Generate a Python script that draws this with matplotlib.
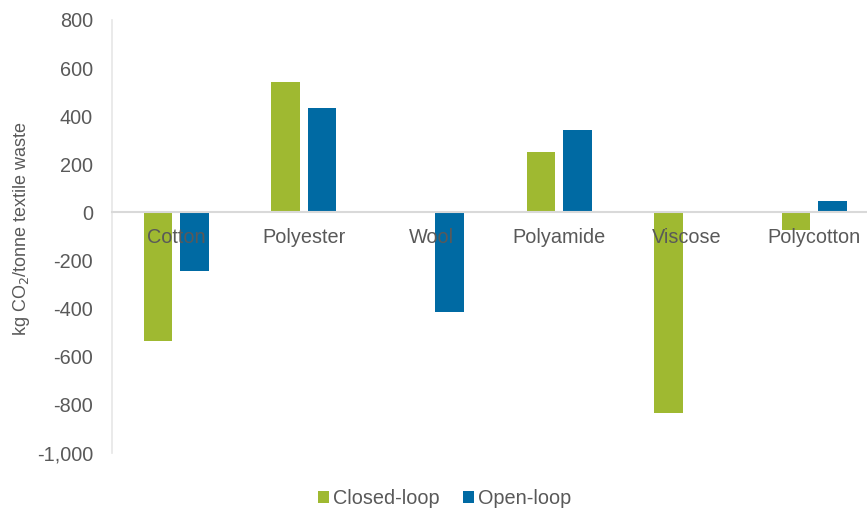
import numpy as np
import matplotlib.pyplot as plt
from matplotlib.ticker import FuncFormatter

# valeurs (kg CO2 / tonne)
categories = ["Cotton", "Polyester", "Wool", "Polyamide", "Viscose", "Polycotton"]
closed_loop = [-535, 544, 0, 250, -833, -72]
open_loop = [-242, 433, -415, 344, 0, 48]
y_ticks = [-1000, -800, -600, -400, -200, 0, 200, 400, 600, 800]

green = "#9FB931"
blue = "#006AA3"
grey = "#595959"

plt.rcParams['font.family'] = ['Liberation Sans', 'DejaVu Sans']

fig = plt.figure(figsize=(8.67, 5.08), dpi=100)
ax = fig.add_axes([112.5 / 867, 55 / 508, (878 - 112.5) / 867, 433 / 508])

x = np.arange(len(categories))
w = 0.223
ax.bar(x - 0.143, closed_loop, w, color=green, label="Closed-loop")
ax.bar(x + 0.143, open_loop, w, color=blue, label="Open-loop")

ax.set_xlim(-0.5, len(categories) - 0.5)
ax.set_ylim(-1000, 800)
ax.set_yticks(y_ticks)
ax.yaxis.set_major_formatter(FuncFormatter(lambda v, p: f"{int(v):,}"))
ax.tick_params(axis='y', length=0, pad=14, labelsize=14.3, labelcolor=grey)

# axe des x sur la ligne du zero
ax.spines['bottom'].set_position(('data', 0))
ax.spines['bottom'].set_color("#D9D9D9")
ax.spines['bottom'].set_linewidth(1.5)
ax.spines['left'].set_color("#E6E6E6")
ax.spines['left'].set_linewidth(1.2)
ax.spines['top'].set_visible(False)
ax.spines['right'].set_visible(False)
ax.set_xticks(x)
ax.set_xticklabels(categories)
ax.tick_params(axis='x', length=0, pad=11, labelsize=14.3, labelcolor=grey)

ax.set_ylabel("kg CO$_2$/tonne textile waste", fontsize=13, color=grey)
ax.yaxis.label.set_va('center')
ax.yaxis.set_label_coords((22 - 112.5) / 765.5, (453 - 228.5) / 433)

fig.legend(loc='center', bbox_to_anchor=(444.5 / 867, 0.018), ncol=2, frameon=False,
           fontsize=14.3, labelcolor=grey, handlelength=0.55, handleheight=0.55,
           handletextpad=0.2, columnspacing=1.15)

plt.savefig("out.png", dpi=100)
